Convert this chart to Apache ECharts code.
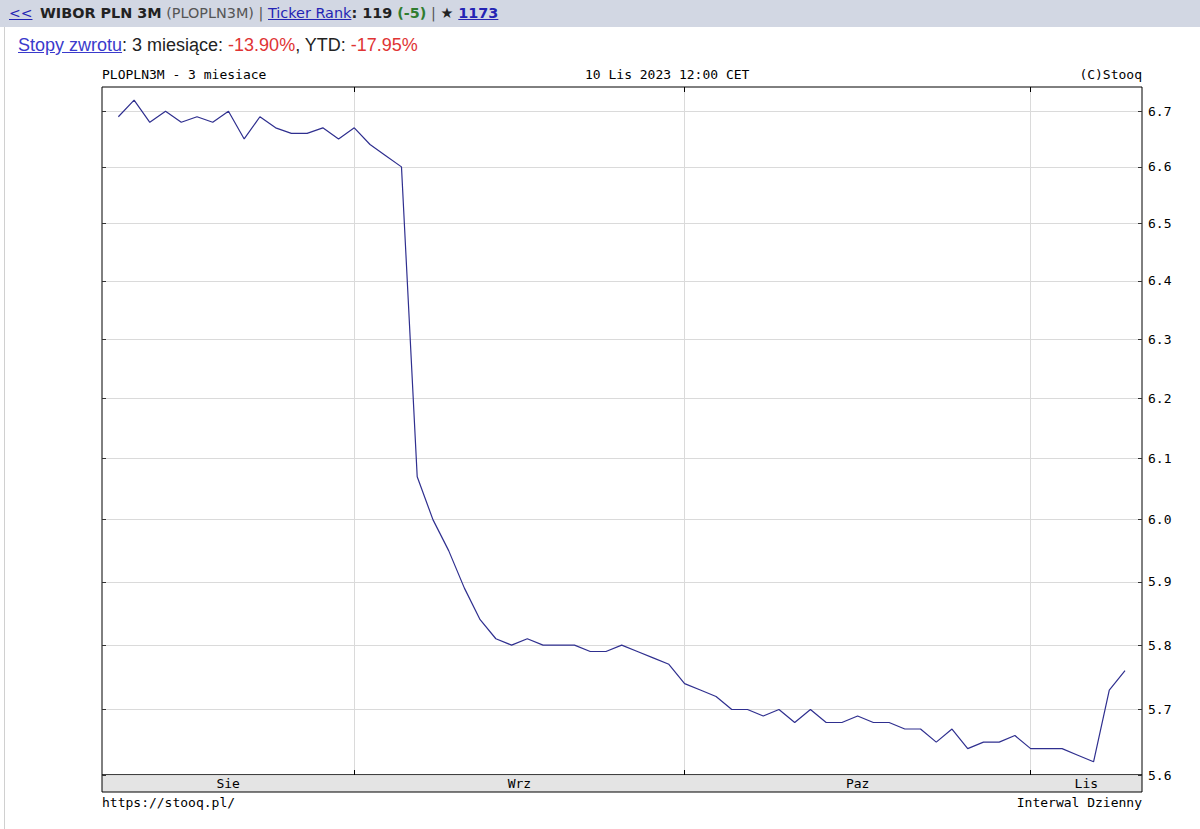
<!DOCTYPE html>
<html>
<head>
<meta charset="utf-8">
<script src="https://cdn.jsdelivr.net/npm/echarts@6/dist/echarts.min.js"></script>
<style>
html,body{margin:0;padding:0;background:#fff;width:1200px;height:829px;overflow:hidden;}
#chart{position:absolute;left:0;top:0;width:1200px;height:829px;}
#bar{position:absolute;left:0;top:0;width:1200px;height:27px;background:#d2d7e3;font-family:"DejaVu Sans",Verdana,sans-serif;font-size:14.4px;line-height:27px;white-space:nowrap;z-index:2;color:#222;}
#bar .lk{color:#2424b4;text-decoration:underline;}
#bar .g{color:#555;}
#bar .first{position:absolute;left:9px;top:0;font-size:14px;}
#bar .rest{position:absolute;left:40px;top:0;}
#ret{position:absolute;left:18px;top:35px;font-family:"Liberation Sans",Arial,sans-serif;font-size:18px;line-height:21px;white-space:nowrap;z-index:2;color:#222;}
#ret .lk{color:#3a3acc;text-decoration:underline;}
#ret .r{color:#e03434;}
#edge{position:absolute;left:4px;top:27px;width:1px;height:802px;background:#d0d0d0;z-index:2;}
</style>
</head>
<body>
<div id="bar"><span class="first lk">&lt;&lt;</span><span class="rest"><b>WIBOR PLN 3M</b> <span class="g">(PLOPLN3M)</span> <span class="g">|</span> <span class="lk">Ticker Rank</span><b>: 119 <span style="color:#2f7d2f">(-5)</span></b> <span class="g">|</span> <b>&#9733; <span class="lk">1173</span></b></span></div>
<div id="ret"><span class="lk">Stopy zwrotu</span>: 3 miesiące: <span class="r">-13.90%</span>, YTD: <span class="r">-17.95%</span></div>
<div id="edge"></div>
<div id="chart"></div>
<script>
// ---- data ----
const dates = [
  '2023-08-10','2023-08-11','2023-08-14','2023-08-16','2023-08-17','2023-08-18','2023-08-21','2023-08-22',
  '2023-08-23','2023-08-24','2023-08-25','2023-08-28','2023-08-29','2023-08-30','2023-08-31',
  '2023-09-01','2023-09-04','2023-09-05','2023-09-06','2023-09-07','2023-09-08','2023-09-11','2023-09-12',
  '2023-09-13','2023-09-14','2023-09-15','2023-09-18','2023-09-19','2023-09-20','2023-09-21','2023-09-22',
  '2023-09-25','2023-09-26','2023-09-27','2023-09-28','2023-09-29',
  '2023-10-02','2023-10-03','2023-10-04','2023-10-05','2023-10-06','2023-10-09','2023-10-10','2023-10-11',
  '2023-10-12','2023-10-13','2023-10-16','2023-10-17','2023-10-18','2023-10-19','2023-10-20','2023-10-23',
  '2023-10-24','2023-10-25','2023-10-26','2023-10-27','2023-10-30','2023-10-31',
  '2023-11-02','2023-11-03','2023-11-06','2023-11-07','2023-11-08','2023-11-09','2023-11-10'
];
const values = [
  6.69, 6.72, 6.68, 6.70, 6.68, 6.69, 6.68, 6.70, 6.65, 6.69, 6.67, 6.66, 6.66, 6.67, 6.65,
  6.67, 6.64, 6.62, 6.60, 6.07, 6.00, 5.95, 5.89, 5.84, 5.81, 5.80, 5.81, 5.80, 5.80, 5.80, 5.79,
  5.79, 5.80, 5.79, 5.78, 5.77,
  5.74, 5.73, 5.72, 5.70, 5.70, 5.69, 5.70, 5.68, 5.70, 5.68, 5.68, 5.69, 5.68, 5.68, 5.67, 5.67,
  5.65, 5.67, 5.64, 5.65, 5.65, 5.66,
  5.64, 5.64, 5.64, 5.63, 5.62, 5.73, 5.76
];
const monthNames = ['Sie', 'Wrz', 'Paz', 'Lis'];
const yTicks = [5.6, 5.7, 5.8, 5.9, 6.0, 6.1, 6.2, 6.3, 6.4, 6.5, 6.6, 6.7];
const yTickLabels = ['5.6', '5.7', '5.8', '5.9', '6.0', '6.1', '6.2', '6.3', '6.4', '6.5', '6.6', '6.7'];

// ---- layout helpers ----
const MONO = '"DejaVu Sans Mono", "Liberation Mono", monospace';
const xMin = -1.04, xMax = 65.08;
const plotLeft = 102, plotRight = 1142;
const tickLen = 4 * (xMax - xMin) / (plotRight - plotLeft); // 4px expressed in axis units
const bounds = [];
for (let i = 1; i < dates.length; i++) {
  if (dates[i].slice(5, 7) !== dates[i - 1].slice(5, 7)) bounds.push(i);
}
const edges = [xMin].concat(bounds, [xMax]);
const centers = [];
for (let i = 0; i < edges.length - 1; i++) centers.push((edges[i] + edges[i + 1]) / 2);
function monthLabel(v) {
  let best = 0;
  for (let i = 1; i < centers.length; i++) if (Math.abs(centers[i] - v) < Math.abs(centers[best] - v)) best = i;
  return monthNames[best];
}
const tickSegs = [];
yTicks.forEach(t => {
  tickSegs.push([{ coord: [xMin, t] }, { coord: [xMin + tickLen, t] }]);
  tickSegs.push([{ coord: [xMax - tickLen, t] }, { coord: [xMax, t] }]);
});

const chart = echarts.init(document.getElementById('chart'), null, { renderer: 'svg' });
const option = {
  animation: false,
  grid: [
    { left: plotLeft, right: 1200 - plotRight, top: 87, bottom: 54, show: true, backgroundColor: '#fff', borderColor: '#000', borderWidth: 1 },
    { left: plotLeft, right: 1200 - plotRight, top: 775, height: 17, show: true, backgroundColor: '#e4e4e4', borderColor: '#000', borderWidth: 1 }
  ],
  xAxis: [
    { gridIndex: 0, type: 'value', min: xMin, max: xMax, position: 'bottom',
      axisLine: { show: false },
      axisTick: { show: true, inside: true, length: 5, customValues: bounds, lineStyle: { color: '#000' } },
      axisLabel: { show: false },
      splitLine: { show: true, lineStyle: { color: '#dadada', width: 1 } } },
    { gridIndex: 0, type: 'value', min: xMin, max: xMax, position: 'top',
      axisLine: { show: false },
      axisTick: { show: true, inside: true, length: 5, customValues: bounds, lineStyle: { color: '#000' } },
      axisLabel: { show: false },
      splitLine: { show: false } },
    { gridIndex: 1, type: 'value', min: xMin, max: xMax, position: 'bottom',
      axisLine: { show: false }, axisTick: { show: false }, splitLine: { show: false },
      axisLabel: { inside: true, margin: 2, customValues: centers, formatter: monthLabel,
        color: '#000', fontFamily: MONO, fontSize: 13 } }
  ],
  yAxis: [
    { gridIndex: 0, type: 'log', logBase: 10, min: 5.6, max: 6.744, position: 'right',
      axisLine: { show: false }, axisTick: { show: false }, axisLabel: { show: false }, splitLine: { show: false } },
    { gridIndex: 1, type: 'value', min: 0, max: 1, show: false }
  ],
  graphic: [
    { type: 'text', left: 102, top: 68, style: { text: 'PLOPLN3M - 3 miesiace', font: '13px ' + MONO, fill: '#000' } },
    { type: 'text', left: 585, top: 68, style: { text: '10 Lis 2023 12:00 CET', font: '13px ' + MONO, fill: '#000' } },
    { type: 'text', right: 58, top: 68, style: { text: '(C)Stooq', font: '13px ' + MONO, fill: '#000' } },
    { type: 'text', left: 102, top: 796, style: { text: 'https://stooq.pl/', font: '13px ' + MONO, fill: '#000' } },
    { type: 'text', right: 58, top: 796, style: { text: 'Interwal Dzienny', font: '13px ' + MONO, fill: '#000' } }
  ],
  series: [
    {
      type: 'line', xAxisIndex: 0, yAxisIndex: 0, data: [], z: 1,
      markLine: {
        silent: true, symbol: ['none', 'none'], z: 1,
        lineStyle: { color: '#dadada', width: 1, type: 'solid' },
        label: { show: true, position: 'end', formatter: '{b}', distance: 6, color: '#000', fontFamily: MONO, fontSize: 13 },
        data: yTicks.map((t, i) => ({ yAxis: t, name: yTickLabels[i] }))
      }
    },
    {
      type: 'line', xAxisIndex: 0, yAxisIndex: 0, data: [], z: 2,
      markLine: {
        silent: true, symbol: ['none', 'none'], z: 2,
        lineStyle: { color: '#333', width: 1, type: 'solid' },
        label: { show: false },
        data: tickSegs
      }
    },
    {
      type: 'line', xAxisIndex: 0, yAxisIndex: 0,
      data: values.map((v, i) => [i, v]),
      symbol: 'none', z: 3,
      lineStyle: { color: '#2f2f8f', width: 1.2 }
    }
  ]
};
chart.setOption(option);
</script>
</body>
</html>
